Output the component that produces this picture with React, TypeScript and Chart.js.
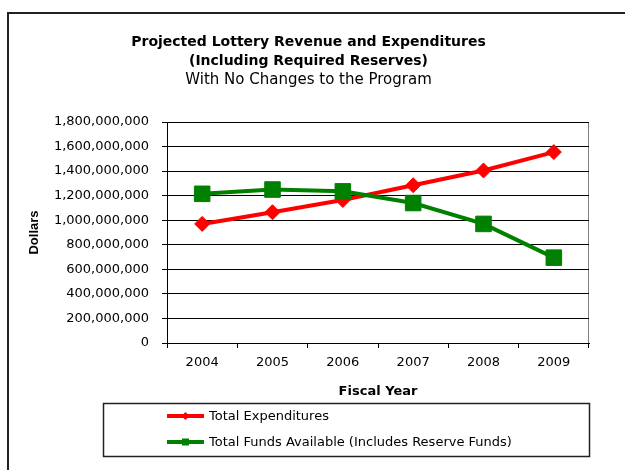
import React, { useEffect, useRef } from 'react';
import { Chart, registerables } from 'chart.js';

Chart.register(...registerables);

const categories = ['2004', '2005', '2006', '2007', '2008', '2009'];
const expenditures = [970e6, 1065e6, 1165e6, 1285e6, 1405e6, 1555e6];
const fundsAvailable = [1215e6, 1250e6, 1235e6, 1140e6, 970e6, 695e6];
const seriesLabels = ['Total Expenditures', 'Total Funds Available (Includes Reserve Funds)'];
const seriesColors = ['#FF0000', '#008000'];
const titleLines = ['Projected Lottery Revenue and Expenditures', '(Including Required Reserves)'];
const subtitleText = 'With No Changes to the Program';
const yTitle = 'Dollars';
const xTitle = 'Fiscal Year';
const yMin = 0;
const yMax = 1.8e9;
const yStep = 2e8;

const FAMILY = "'DejaVu Sans', sans-serif";

const decorPlugin = {
  id: 'decor',
  beforeDraw(chart: any) {
    const ctx = chart.ctx;
    ctx.save();
    ctx.fillStyle = '#ffffff';
    ctx.fillRect(0, 0, chart.width, chart.height);
    ctx.fillStyle = '#222222';
    ctx.fillRect(7, 12, 2, chart.height - 12);
    ctx.fillRect(7, 12, chart.width - 7, 2);
    ctx.restore();
  },
  afterDraw(chart: any) {
    const ctx = chart.ctx;
    ctx.save();
    // titles
    ctx.fillStyle = '#000';
    ctx.textAlign = 'center';
    ctx.textBaseline = 'middle';
    const cx = 308.5;
    ctx.font = `bold 14px ${FAMILY}`;
    titleLines.forEach((t, i) => ctx.fillText(t, cx, 42 + i * 19));
    ctx.font = `15px ${FAMILY}`;
    ctx.fillText(subtitleText, cx, 80);

    // legend box
    ctx.strokeStyle = '#222';
    ctx.lineWidth = 1.5;
    ctx.strokeRect(103.5, 403.5, 486, 53);
    chart.data.datasets.forEach((ds: any, i: number) => {
      const y = 416 + i * 26;
      ctx.strokeStyle = ds.borderColor;
      ctx.lineWidth = 4;
      ctx.beginPath();
      ctx.moveTo(167, y);
      ctx.lineTo(204, y);
      ctx.stroke();
      ctx.fillStyle = ds.borderColor;
      const mx = 185.5;
      if (ds.pointStyle === 'rectRot') {
        ctx.beginPath();
        ctx.moveTo(mx - 4, y);
        ctx.lineTo(mx, y - 4);
        ctx.lineTo(mx + 4, y);
        ctx.lineTo(mx, y + 4);
        ctx.closePath();
        ctx.fill();
      } else {
        ctx.fillRect(mx - 3.5, y - 3.5, 7, 7);
      }
      ctx.fillStyle = '#000';
      ctx.textAlign = 'left';
      ctx.textBaseline = 'middle';
      ctx.font = `13px ${FAMILY}`;
      ctx.fillText(ds.label, 209, y + 0.5);
    });
    ctx.restore();
  },
};

export default function App() {
  const ref = useRef<HTMLCanvasElement>(null);
  useEffect(() => {
    if (!ref.current) return;
    const chart = new Chart(ref.current, {
      type: 'line',
      data: {
        labels: categories,
        datasets: [
          {
            label: seriesLabels[0],
            data: expenditures,
            borderColor: seriesColors[0],
            backgroundColor: seriesColors[0],
            pointBackgroundColor: seriesColors[0],
            pointBorderColor: seriesColors[0],
            pointStyle: 'rectRot',
            pointRadius: 7.5,
            pointBorderWidth: 1,
            borderWidth: 4,
            tension: 0,
            order: 1,
          },
          {
            label: seriesLabels[1],
            data: fundsAvailable,
            borderColor: seriesColors[1],
            backgroundColor: seriesColors[1],
            pointBackgroundColor: seriesColors[1],
            pointBorderColor: seriesColors[1],
            pointStyle: 'rect',
            pointRadius: 11,
            pointBorderWidth: 1,
            borderWidth: 4,
            tension: 0,
            order: 0,
          },
        ],
      } as any,
      options: {
        responsive: false,
        animation: false,
        layout: { padding: { left: 0, top: 122, right: 36, bottom: 0 } },
        plugins: {
          legend: { display: false },
          title: { display: false },
          tooltip: { enabled: false },
        },
        scales: {
          x: {
            type: 'category',
            offset: true,
            grid: {
              offset: true,
              drawOnChartArea: true,
              color: (c: any) => (c.index === undefined ? '#808080' : 'rgba(0,0,0,0)'),
              tickColor: '#000',
              tickLength: 5,
              lineWidth: 1,
            },
            border: { display: true, color: '#000', width: 1 },
            ticks: {
              color: '#000',
              font: { family: FAMILY, size: 13 },
              padding: 7,
              maxRotation: 0,
              autoSkip: false,
            },
            title: {
              display: true,
              text: xTitle,
              color: '#000',
              font: { family: FAMILY, size: 13, weight: 'bold' },
              padding: { top: 0, bottom: 71 },
            },
            afterFit: (s: any) => {
              s.height = 127;
            },
          },
          y: {
            min: yMin,
            max: yMax,
            ticks: {
              stepSize: yStep,
              color: '#000',
              font: { family: FAMILY, size: 13 },
              padding: 13,
              callback: (v: any) => Number(v).toLocaleString('en-US'),
            },
            grid: { color: '#000', tickColor: '#000', tickLength: 5, lineWidth: 1 },
            border: { display: true, color: '#000', width: 1 },
            title: {
              display: true,
              text: yTitle,
              color: '#000',
              font: { family: "'Liberation Sans', Arial, sans-serif", size: 13, weight: 'bold' },
              padding: { top: 27, bottom: 0 },
            },
            afterFit: (s: any) => {
              s.width = 167;
            },
          },
        },
      } as any,
      plugins: [decorPlugin],
    });
    return () => chart.destroy();
  }, []);
  return (
    <div style={{ position: 'absolute', left: 0, top: 0, width: 625, height: 470 }}>
      <canvas ref={ref} width={625} height={470} style={{ display: 'block' }} />
    </div>
  );
}
